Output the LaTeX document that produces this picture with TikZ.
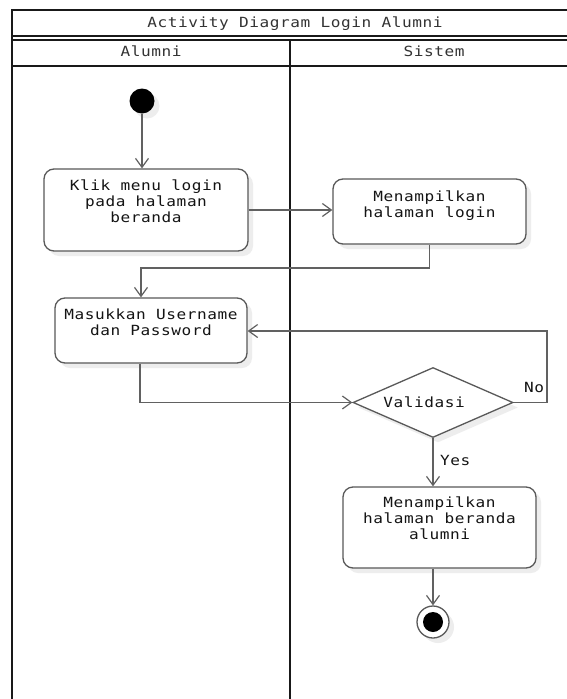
\documentclass[tikz,border=0pt]{standalone}
\usepackage{fontspec}
\newfontfamily\monof[LetterSpace=4,FakeStretch=1.15]{DejaVu Sans Mono}
\usetikzlibrary{arrows.meta,shapes.geometric,shadows}
\begin{document}
\begin{tikzpicture}[x=1pt,y=-1pt,
  frame/.style={line width=2pt, draw=black!90},
  conn/.style={draw=black!62, line width=1.3pt, -{Straight Barb[length=9pt,width=13pt,line width=1.2pt]}},
  shad/.style={drop shadow={shadow xshift=5pt, shadow yshift=-5pt, fill=black!7, opacity=1}},
  act/.style={draw=black!65, line width=1.3pt, rounded corners=10pt, fill=white, shad, inner sep=0pt},
  txt/.style={font=\monof\fontsize{14}{16}\selectfont, align=center, inner sep=0pt, anchor=north, text=black!92},
  hdr/.style={font=\monof\fontsize{14}{16}\selectfont, inner sep=0pt, anchor=north, text=black!80}
]
\useasboundingbox (0,0) rectangle (567,699);
\clip (0,0) rectangle (567,699);
\fill[white] (0,0) rectangle (567,699);

% frame
\draw[frame] (12,720) -- (12,10) -- (578,10) -- (578,720);
\draw[frame] (12,36) -- (578,36);
\draw[frame] (12,40) -- (578,40);
\draw[frame] (12,66) -- (578,66);
\draw[frame] (290,40) -- (290,720);
\node[hdr] (title) at (295,17) {Activity Diagram Login Alumni};
\node[hdr] (lane1) at (151,46) {Alumni};
\node[hdr] (lane2) at (434,46) {Sistem};

% nodes
\node[circle, fill=black, minimum size=25pt, inner sep=0pt, shad] (start) at (142,101) {};
\node[act, minimum width=204pt, minimum height=82pt] (b1) at (146,210) {};
\node[txt] (t1) at (146,180) {Klik menu login\\pada halaman\\beranda};
\node[act, minimum width=193pt, minimum height=65pt] (b2) at (429.5,211.5) {};
\node[txt] (t2) at (429.5,191) {Menampilkan\\halaman login};
\node[act, minimum width=192pt, minimum height=65pt] (b3) at (151,330.5) {};
\node[txt] (t3) at (151,308.5) {Masukkan Username\\dan Password};
\node[diamond, draw=black!65, line width=1.3pt, fill=white, shad, minimum width=160pt, minimum height=70pt, aspect=2.29, inner sep=0pt] (dia) at (433,402.5) {};
\node[txt] (t4) at (424,396.5) {Validasi};
\node[act, minimum width=193pt, minimum height=81pt] (b4) at (439.5,527.5) {};
\node[txt] (t5) at (439.5,496.5) {Menampilkan\\halaman beranda\\alumni};
\node[circle, draw=black!65, line width=1.3pt, fill=white, minimum size=32pt, inner sep=0pt, shad] (endc) at (433,622) {};
\node[circle, fill=black, minimum size=20pt, inner sep=0pt] (endi) at (433,622) {};

% helper coordinates
\coordinate (j1) at (141,268);
\coordinate (j2) at (140,402.5);
\coordinate (j3) at (547,331);

% connectors
\draw[conn] (start) -- (start |- b1.north);
\draw[conn] (b1.east) -- (b1.east -| b2.west);
\draw[conn] (b2.south) -- (b2.south |- j1) -- (j1) -- (j1 |- b3.north);
\draw[conn] (j2 |- b3.south) -- (j2) -- (dia.west);
\draw[conn] (dia.east) -- (dia.east -| j3) -- (j3) -- (j3 -| b3.east);
\draw[conn] (dia.south) -- (dia.south |- b4.north);
\draw[conn] (dia.south |- b4.south) -- (endc.north);

\node[txt, anchor=north] (no) at (534,382) {No};
\node[txt, anchor=north west] (yes) at (440,455) {Yes};
\end{tikzpicture}
\end{document}
